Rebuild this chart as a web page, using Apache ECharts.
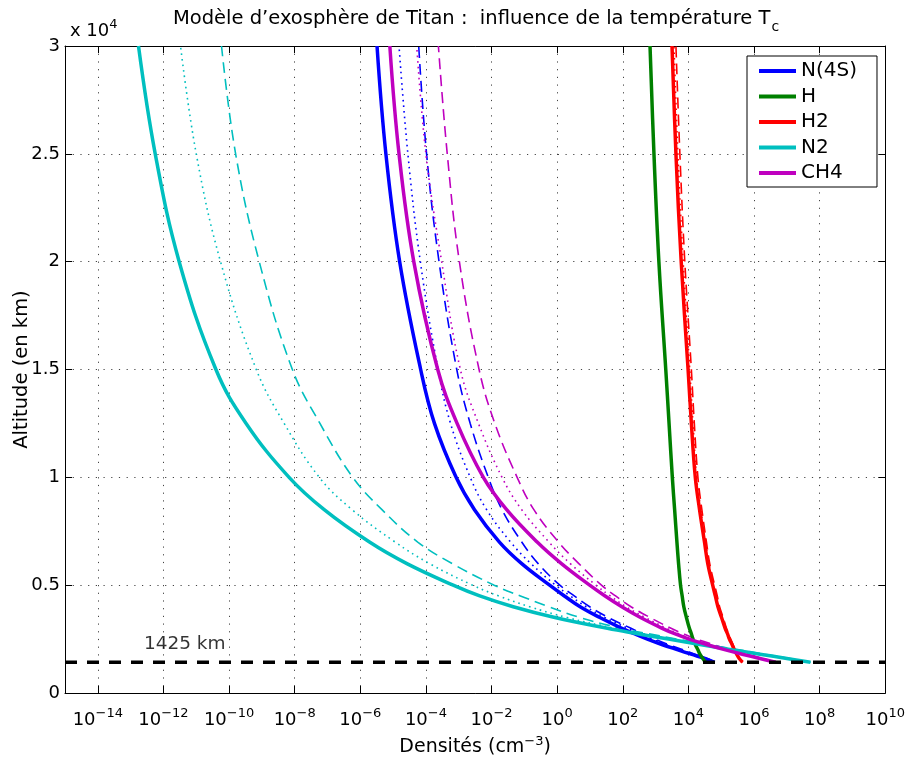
<!DOCTYPE html>
<html><head><meta charset="utf-8">
<script src="https://cdn.jsdelivr.net/npm/echarts@6/dist/echarts.min.js"></script>
<style>html,body{margin:0;padding:0;background:#fff}#c{width:908px;height:762px}</style>
</head><body><div id="c"></div>
<script>
// Altitudes (km) shared by every curve
const altitudes = [1425, 1600, 1800, 2000, 2250, 2500, 2750, 3000, 3500, 4000, 4500, 5000, 6000, 7000, 8500, 10000, 12500, 15000, 20000, 25000, 30000];
// log10 of density (cm^-3); a = solid, b = dotted, c = dashed
const n4s_a = [4.80, 4.50, 4.08, 3.68, 3.19, 2.75, 2.35, 1.97, 1.30, 0.70, 0.22, -0.23, -1.08, -1.76, -2.52, -3.08, -3.74, -4.16, -4.80, -5.22, -5.49];
const n4s_b = [4.80, 4.55, 4.16, 3.78, 3.32, 2.90, 2.52, 2.15, 1.45, 0.88, 0.40, -0.05, -0.80, -1.42, -2.15, -2.65, -3.25, -3.63, -4.17, -4.55, -4.82];
const n4s_c = [4.80, 4.57, 4.20, 3.84, 3.39, 2.98, 2.61, 2.25, 1.56, 0.99, 0.52, 0.08, -0.58, -1.08, -1.68, -2.10, -2.65, -3.06, -3.60, -3.98, -4.22];
const h_a   = [4.52, 4.44, 4.35, 4.29, 4.21, 4.14, 4.09, 4.03, 3.94, 3.86, 3.81, 3.76, 3.70, 3.65, 3.58, 3.51, 3.41, 3.31, 3.10, 2.95, 2.83];
const h2_a  = [5.65, 5.55, 5.47, 5.40, 5.33, 5.25, 5.19, 5.12, 5.01, 4.90, 4.82, 4.74, 4.59, 4.49, 4.34, 4.21, 4.09, 3.99, 3.78, 3.62, 3.50];
const h2_b  = [5.65, 5.56, 5.48, 5.41, 5.35, 5.27, 5.21, 5.14, 5.04, 4.93, 4.85, 4.77, 4.62, 4.52, 4.38, 4.25, 4.14, 4.04, 3.84, 3.68, 3.56];
const h2_c  = [5.65, 5.56, 5.49, 5.42, 5.36, 5.29, 5.23, 5.16, 5.06, 4.95, 4.88, 4.80, 4.65, 4.55, 4.41, 4.29, 4.18, 4.09, 3.89, 3.74, 3.62];
const n2_a  = [7.72, 7.00, 6.18, 5.35, 4.35, 3.39, 2.44, 1.53, -0.07, -1.34, -2.36, -3.17, -4.58, -5.72, -7.10, -8.17, -9.48, -10.40, -11.52, -12.25, -12.76];
const n2_b  = [7.72, 7.05, 6.25, 5.45, 4.47, 3.53, 2.62, 1.75, 0.30, -0.84, -1.78, -2.58, -3.89, -4.94, -6.25, -7.25, -8.32, -9.17, -10.26, -11.00, -11.48];
const n2_c  = [7.72, 7.10, 6.32, 5.55, 4.58, 3.66, 2.78, 1.95, 0.69, -0.25, -1.12, -1.92, -3.20, -4.25, -5.34, -6.23, -7.23, -8.07, -9.08, -9.80, -10.23];
const ch4_a = [6.66, 6.18, 5.64, 5.13, 4.55, 4.02, 3.58, 3.20, 2.54, 1.97, 1.46, 0.99, 0.13, -0.61, -1.54, -2.25, -3.05, -3.64, -4.37, -4.82, -5.10];
const ch4_b = [6.66, 6.22, 5.70, 5.20, 4.64, 4.12, 3.70, 3.33, 2.68, 2.10, 1.62, 1.18, 0.40, -0.25, -1.08, -1.68, -2.40, -2.95, -3.52, -4.00, -4.28];
const ch4_c = [6.66, 6.27, 5.77, 5.29, 4.75, 4.25, 3.84, 3.47, 2.83, 2.25, 1.78, 1.35, 0.66, 0.04, -0.71, -1.22, -1.90, -2.38, -2.98, -3.35, -3.62];
const exobase = 1425;
const exobaseLabelX = -11.35;
const xTicks = [-14, -12, -10, -8, -6, -4, -2, 0, 2, 4, 6, 8, 10];
const legendNames = ['N(4S)', 'H', 'H2', 'N2', 'CH4'];

const FONT = 'DejaVu Sans';
const C = {blue:'#0000FF', green:'#008000', red:'#FF0000', cyan:'#00BFBF', mag:'#BF00BF'};

function line(name, logs, color, style) {
  let ls = {color: color, width: 3.5, type: 'solid', cap: 'butt'};
  if (style === 'dot') ls = {color: color, width: 1.6, type: [1.6, 4]};
  if (style === 'dash') ls = {color: color, width: 1.6, type: [11, 6]};
  return {
    name: name, type: 'line', smooth: 0.4, symbol: 'none', silent: true,
    lineStyle: ls, itemStyle: {color: color},
    data: altitudes.map((a, i) => [logs[i], a]),
    z: style === 'solid' ? 3 : 2
  };
}
function expo(v) { return v < 0 ? '\u2212' + (-v) : String(v); }

const richX = {
  b: {fontFamily: FONT, fontSize: 18, color: '#000', lineHeight: 20, verticalAlign: 'bottom'},
  s: {fontFamily: FONT, fontSize: 13, color: '#000', lineHeight: 20, verticalAlign: 'bottom', padding: [0, 0, 9, 0]}
};

const chart = echarts.init(document.getElementById('c'), null, {renderer: 'canvas'});
chart.setOption({
  animation: false,
  backgroundColor: '#fff',
  title: [{
    text: '{t|Modèle d\u2019exosphère de Titan :  influence de la température T}{c|c}',
    left: 471, textAlign: 'center', top: 4,
    textStyle: {fontFamily: FONT, fontSize: 19.5, fontWeight: 'normal', color: '#000',
      rich: {
        t: {fontFamily: FONT, fontSize: 19.5, color: '#000', lineHeight: 22, verticalAlign: 'top'},
        c: {fontFamily: FONT, fontSize: 14, color: '#000', lineHeight: 22, verticalAlign: 'top', padding: [11, 0, 0, 1]}
      }}
  }, {
    text: '{b|x 10}{s|4}', left: 65, top: 15,
    textStyle: {fontFamily: FONT, fontSize: 18, fontWeight: 'normal', color: '#000', rich: richX}
  }],
  legend: {
    data: legendNames, orient: 'vertical', left: 747, top: 56,
    padding: [5, 20, 4, 12], icon: 'rect', itemWidth: 37, itemHeight: 4, itemGap: 5.5, itemTextGap: 16,
    backgroundColor: '#fff', borderColor: '#000', borderWidth: 1,
    textStyle: {fontFamily: FONT, fontSize: 20, color: '#000'}
  },
  grid: {left: 65, right: 20, top: 46, bottom: 69, containLabel: false},
  xAxis: [{
    type: 'value', min: -15, max: 10, position: 'bottom',
    name: '{b|Densités (cm}{s|\u22123}{b|)}', nameLocation: 'middle', nameGap: 44,
    nameTextStyle: {fontFamily: FONT, fontSize: 19, color: '#000', rich: {
      b: {fontFamily: FONT, fontSize: 19, color: '#000', lineHeight: 20, verticalAlign: 'bottom'},
      s: {fontFamily: FONT, fontSize: 13, color: '#000', lineHeight: 20, verticalAlign: 'bottom', padding: [0, 0, 9, 0]}
    }},
    axisLine: {show: true, onZero: false, lineStyle: {color: '#000', width: 1}},
    axisTick: {show: true, inside: true, length: 7, customValues: xTicks, lineStyle: {color: '#000'}},
    axisLabel: {customValues: xTicks, margin: 16, formatter: v => '{b|10}{s|' + expo(v) + '}', rich: richX},
    splitLine: {show: true, lineStyle: {color: '#444', width: 1, type: [1.2, 6.5]}}
  }, {
    type: 'value', min: -15, max: 10, position: 'top',
    axisLine: {show: true, onZero: false, lineStyle: {color: '#000', width: 1}},
    axisTick: {show: true, inside: true, length: 7, customValues: xTicks, lineStyle: {color: '#000'}},
    axisLabel: {show: false}, splitLine: {show: false}
  }],
  yAxis: [{
    type: 'value', min: 0, max: 30000, interval: 5000, position: 'left',
    name: 'Altitude (en km)', nameLocation: 'middle', nameGap: 33, nameRotate: 90, nameMoveOverlap: false,
    nameTextStyle: {fontFamily: FONT, fontSize: 19.5, color: '#000'},
    axisLine: {show: true, onZero: false, lineStyle: {color: '#000', width: 1}},
    axisTick: {show: true, inside: true, length: 7, lineStyle: {color: '#000'}},
    axisLabel: {margin: 5, fontFamily: FONT, fontSize: 18, color: '#000', formatter: v => String(v / 10000)},
    splitLine: {show: true, lineStyle: {color: '#444', width: 1, type: [1.2, 6.5]}}
  }, {
    type: 'value', min: 0, max: 30000, interval: 5000, position: 'right',
    axisLine: {show: true, onZero: false, lineStyle: {color: '#000', width: 1}},
    axisTick: {show: true, inside: true, length: 7, lineStyle: {color: '#000'}},
    axisLabel: {show: false}, splitLine: {show: false}
  }],
  series: [
    line('N(4S) b', n4s_b, C.blue, 'dot'),
    line('N(4S) c', n4s_c, C.blue, 'dash'),
    line('H2 b', h2_b, C.red, 'dot'),
    line('H2 c', h2_c, C.red, 'dash'),
    line('N2 b', n2_b, C.cyan, 'dot'),
    line('N2 c', n2_c, C.cyan, 'dash'),
    line('CH4 b', ch4_b, C.mag, 'dot'),
    line('CH4 c', ch4_c, C.mag, 'dash'),
    line('N(4S)', n4s_a, C.blue, 'solid'),
    line('H', h_a, C.green, 'solid'),
    line('H2', h2_a, C.red, 'solid'),
    line('N2', n2_a, C.cyan, 'solid'),
    line('CH4', ch4_a, C.mag, 'solid'),
    {
      name: 'exobase', type: 'line', symbol: 'none', silent: true, z: 4,
      lineStyle: {color: '#000', width: 3.5, type: [12, 10]},
      data: [[-15, exobase], [10, exobase]]
    },
    {
      name: 'exobase label', type: 'scatter', symbolSize: 1, silent: true,
      itemStyle: {color: 'rgba(0,0,0,0)'},
      label: {show: true, position: 'top', distance: 8, formatter: '1425 km',
        fontFamily: FONT, fontSize: 18.5, color: '#000'},
      data: [[exobaseLabelX, exobase]]
    }
  ]
});
</script></body></html>
